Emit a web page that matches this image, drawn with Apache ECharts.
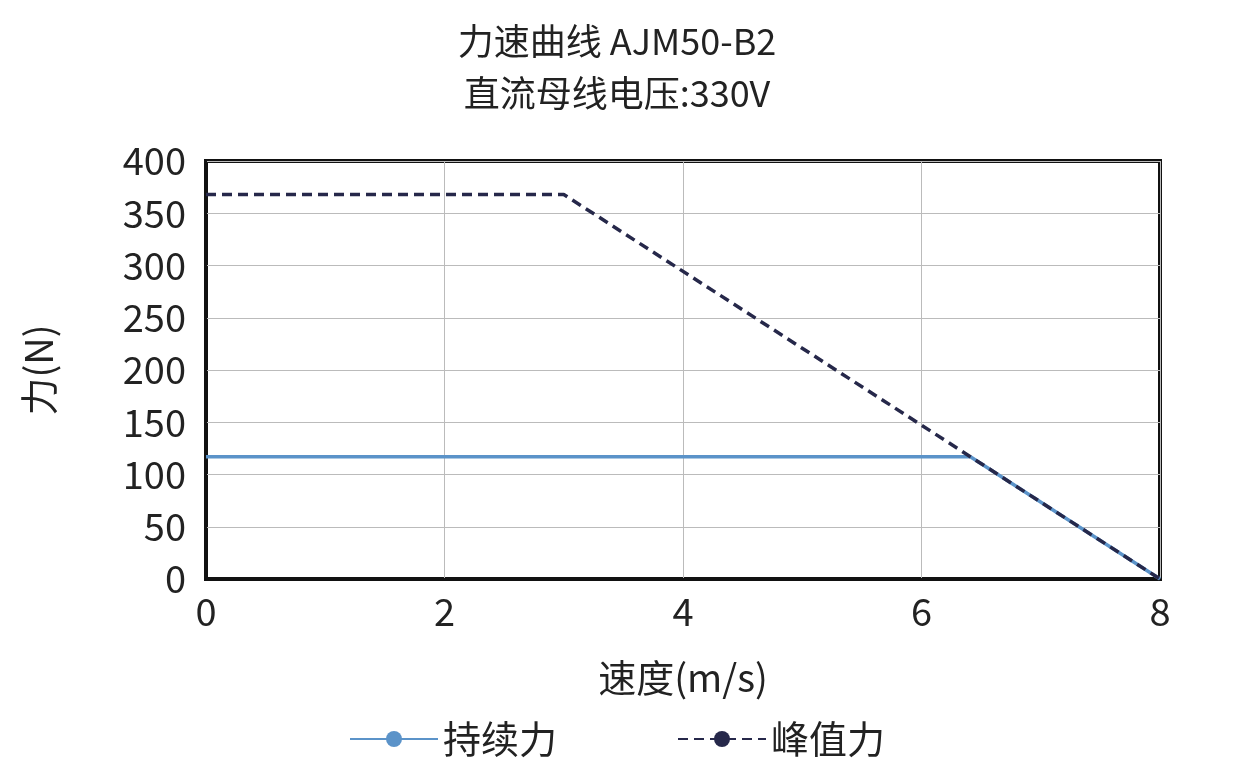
<!DOCTYPE html>
<html><head><meta charset="utf-8">
<script src="https://cdn.jsdelivr.net/npm/echarts@6/dist/echarts.min.js"></script>
<style>body{margin:0}#c{width:1234px;height:773px}</style></head>
<body><div id="c"></div>
<script>
const contX=[0,6.41,8], contY=[117,117,0];
const peakX=[0,3,8], peakY=[368,368,0];
const xTicks=[0,2,4,6,8], yTicks=[0,50,100,150,200,250,300,350,400];
const F='"Noto Sans CJK SC","Noto Sans",sans-serif';
const ch=echarts.init(document.getElementById('c'));
ch.setOption({
 title:{text:'力速曲线 AJM50-B2\n直流母线电压:330V',left:'center',top:10,textStyle:{fontFamily:F,fontSize:36,fontWeight:'normal',color:'#222',lineHeight:52}},
 grid:{left:206,right:74,top:161,bottom:194,show:true,borderColor:'#111',borderWidth:4},
 legend:{bottom:10,itemWidth:88,itemHeight:20,itemGap:120,textStyle:{fontFamily:F,fontSize:38,color:'#222'},
  data:[{name:'持续力'},{name:'峰值力'}]},
 xAxis:{type:'value',min:0,max:8,interval:2,name:'速度(m/s)',nameLocation:'middle',nameGap:80,
  nameTextStyle:{fontFamily:F,fontSize:38,color:'#222'},
  axisLine:{lineStyle:{color:'#111',width:2}},axisTick:{show:false},
  axisLabel:{fontFamily:F,fontSize:38,color:'#222',margin:14},splitLine:{lineStyle:{color:'#bbb',width:1}}},
 yAxis:{type:'value',min:0,max:400,interval:50,name:'力(N)',nameLocation:'middle',nameGap:148,
  nameTextStyle:{fontFamily:F,fontSize:38,color:'#222'},
  axisLine:{show:true,lineStyle:{color:'#111',width:2}},axisTick:{show:false},
  axisLabel:{fontFamily:F,fontSize:38,color:'#222',margin:20},splitLine:{lineStyle:{color:'#bbb',width:1}}},
 series:[
  {name:'持续力',type:'line',symbol:'none',data:contX.map((x,i)=>[x,contY[i]]),lineStyle:{color:'#5b93c9',width:3.5},itemStyle:{color:'#5b93c9'}},
  {name:'峰值力',type:'line',symbol:'none',data:peakX.map((x,i)=>[x,peakY[i]]),lineStyle:{color:'#26284a',width:3.5,type:[10,6]},itemStyle:{color:'#26284a'}}
 ]
});
</script></body></html>
